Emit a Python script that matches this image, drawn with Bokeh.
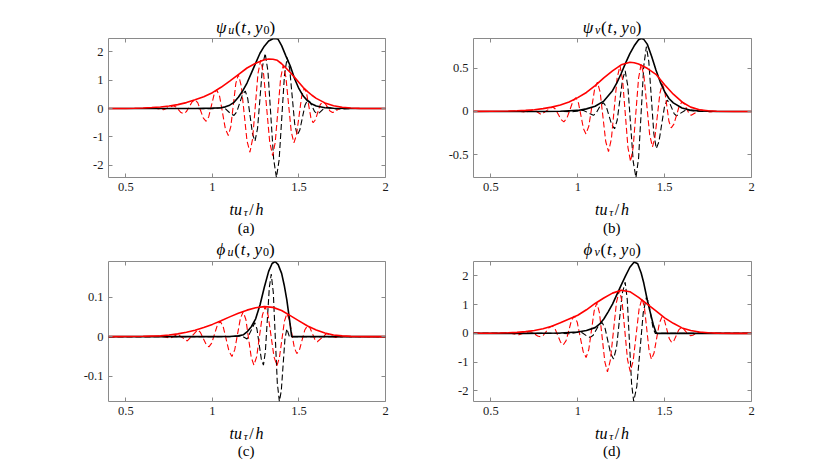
from bokeh.plotting import figure
from bokeh.models import Range1d, FixedTicker, LinearAxis, Label, PrintfTickFormatter
from bokeh.layouts import gridplot
from bokeh.embed import file_html
from bokeh.resources import INLINE

# ---------------- data ----------------
x_range_lim = [0.4, 2.0]
x_ticks = [0.5, 1, 1.5, 2]
x_tick_labels = ["0.5", "1", "1.5", "2"]

a_y_ticks = [-2, -1, 0, 1, 2]
a_y_tick_labels = ["-2", "-1", "0", "1", "2"]
b_y_ticks = [-0.5, 0, 0.5]
b_y_tick_labels = ["-0.5", "0", "0.5"]
c_y_ticks = [-0.1, 0, 0.1]
c_y_tick_labels = ["-0.1", "0", "0.1"]
d_y_ticks = [-2, -1, 0, 1, 2]
d_y_tick_labels = ["-2", "-1", "0", "1", "2"]

a_ylim = [-2.43, 2.47]
b_ylim = [-0.765, 0.845]
c_ylim = [-0.164, 0.19]
d_ylim = [-2.37, 2.5]

panel_symbols = ["ψ", "ψ", "ϕ", "ϕ"]
panel_subs = ["u", "v", "u", "v"]
captions = ["(a)", "(b)", "(c)", "(d)"]

# panel (a): envelopes (solid) and oscillating parts (dashed), (t, value)
a_black_env_x = [0.4, 0.8, 0.9, 1.0, 1.05, 1.075, 1.1, 1.125, 1.15, 1.175, 1.2, 1.225, 1.25, 1.275, 1.3, 1.325, 1.35, 1.365, 1.38, 1.4, 1.425, 1.45, 1.475, 1.5, 1.525, 1.55, 1.575, 1.6, 1.65, 1.7, 1.8, 2.0]
a_black_env_y = [0, 0, 0.005, 0.015, 0.03, 0.06, 0.12, 0.22, 0.4, 0.62, 0.9, 1.25, 1.6, 1.95, 2.2, 2.38, 2.46, 2.47, 2.44, 2.22, 1.85, 1.5, 1.05, 0.7, 0.44, 0.27, 0.16, 0.09, 0.03, 0.01, 0, 0]
a_red_env_x = [0.4, 0.5, 0.55, 0.6, 0.65, 0.7, 0.75, 0.8, 0.85, 0.9, 0.95, 1.0, 1.05, 1.1, 1.15, 1.2, 1.25, 1.3, 1.325, 1.35, 1.375, 1.4, 1.425, 1.45, 1.475, 1.5, 1.525, 1.55, 1.575, 1.6, 1.65, 1.7, 1.75, 1.8, 1.85, 1.9, 2.0]
a_red_env_y = [0.002, 0.005, 0.01, 0.02, 0.035, 0.055, 0.09, 0.14, 0.21, 0.31, 0.42, 0.56, 0.75, 0.97, 1.2, 1.43, 1.6, 1.72, 1.75, 1.74, 1.70, 1.58, 1.43, 1.27, 1.10, 0.92, 0.74, 0.6, 0.47, 0.36, 0.2, 0.1, 0.045, 0.018, 0.007, 0.002, 0]
a_black_osc = [(0.4, 0), (0.9, 0), (1.0, -0.005), (1.06, 0.03), (1.076, -0.009), (1.109, -0.201), (1.125, -0.24), (1.141, -0.115), (1.174, 0.494), (1.19, 0.62), (1.204, 0.362), (1.232, -0.892), (1.246, -1.15), (1.261, -0.697), (1.29, 1.497), (1.305, 1.95), (1.321, 1.311), (1.354, -1.791), (1.37, -2.43), (1.3855, -1.812), (1.4165, 1.182), (1.432, 1.8), (1.4465, 1.4), (1.4755, -0.54), (1.49, -0.94), (1.505, -0.759), (1.535, 0.119), (1.55, 0.3), (1.564, 0.23), (1.591, -0.11), (1.605, -0.18), (1.619, -0.146), (1.646, 0.016), (1.66, 0.05), (1.72, -0.02), (1.8, 0), (2.0, 0)]
a_red_osc = [(0.4, 0), (0.6, 0), (0.66, 0.02), (0.717, -0.04), (0.775, 0.1), (0.7895, 0.059), (0.8185, -0.139), (0.833, -0.18), (0.8498, -0.108), (0.8833, 0.238), (0.9, 0.31), (0.916, 0.199), (0.948, -0.339), (0.964, -0.45), (0.979, -0.288), (1.01, 0.498), (1.025, 0.66), (1.042, 0.425), (1.075, -0.715), (1.092, -0.95), (1.1065, -0.636), (1.1355, 0.886), (1.15, 1.2), (1.167, 0.8), (1.2, -1.14), (1.217, -1.54), (1.2325, -1.066), (1.2635, 1.236), (1.279, 1.71), (1.296, 1.218), (1.331, -1.168), (1.348, -1.66), (1.363, -1.196), (1.394, 1.056), (1.409, 1.52), (1.4245, 1.121), (1.4555, -0.811), (1.471, -1.21), (1.486, -0.928), (1.516, 0.438), (1.531, 0.72), (1.544, 0.542), (1.569, -0.322), (1.582, -0.5), (1.5955, -0.392), (1.6225, 0.132), (1.636, 0.24), (1.6505, 0.185), (1.6795, -0.085), (1.694, -0.14), (1.708, -0.114), (1.736, 0.014), (1.75, 0.04), (1.8, 0), (2.0, 0)]

# panel (b)
b_black_env_x = [0.4, 0.8, 0.9, 1.0, 1.05, 1.1, 1.15, 1.2, 1.225, 1.25, 1.275, 1.3, 1.325, 1.35, 1.365, 1.38, 1.4, 1.425, 1.45, 1.475, 1.5, 1.525, 1.55, 1.6, 1.65, 1.7, 1.8, 2.0]
b_black_env_y = [0, 0, 0.003, 0.012, 0.03, 0.06, 0.12, 0.24, 0.33, 0.44, 0.56, 0.67, 0.76, 0.83, 0.845, 0.835, 0.78, 0.64, 0.48, 0.34, 0.23, 0.15, 0.1, 0.04, 0.015, 0.005, 0, 0]
b_red_env_x = [0.4, 0.5, 0.6, 0.65, 0.7, 0.75, 0.8, 0.85, 0.9, 0.95, 1.0, 1.05, 1.1, 1.15, 1.2, 1.25, 1.3, 1.325, 1.35, 1.4, 1.45, 1.5, 1.55, 1.6, 1.65, 1.7, 1.75, 1.8, 1.9, 2.0]
b_red_env_y = [0.001, 0.002, 0.005, 0.008, 0.013, 0.02, 0.033, 0.05, 0.075, 0.11, 0.16, 0.22, 0.3, 0.39, 0.47, 0.54, 0.57, 0.565, 0.55, 0.5, 0.43, 0.31, 0.2, 0.11, 0.05, 0.02, 0.008, 0.003, 0, 0]
b_black_osc = [(0.4, 0), (0.9, 0), (0.97, -0.003), (1.03, 0.015), (1.09, -0.045), (1.1045, -0.024), (1.1335, 0.079), (1.148, 0.1), (1.164, 0.056), (1.196, -0.156), (1.212, -0.2), (1.227, -0.102), (1.258, 0.372), (1.273, 0.47), (1.2885, 0.29), (1.3195, -0.585), (1.335, -0.765), (1.35, -0.544), (1.38, 0.529), (1.395, 0.75), (1.409, 0.578), (1.438, -0.258), (1.452, -0.43), (1.4675, -0.348), (1.4985, 0.048), (1.514, 0.13), (1.5275, 0.104), (1.5545, -0.024), (1.568, -0.05), (1.62, 0.015), (1.7, 0), (2.0, 0)]
b_red_osc = [(0.4, 0), (0.6, 0), (0.65, 0.004), (0.7, -0.008), (0.745, 0.02), (0.79, -0.035), (0.855, 0.055), (0.871, 0.029), (0.904, -0.094), (0.92, -0.12), (0.9375, -0.079), (0.9725, 0.119), (0.99, 0.16), (1.004, 0.099), (1.033, -0.199), (1.047, -0.26), (1.0635, -0.172), (1.0965, 0.252), (1.113, 0.34), (1.129, 0.222), (1.161, -0.348), (1.177, -0.465), (1.1935, -0.32), (1.2265, 0.385), (1.243, 0.53), (1.258, 0.368), (1.289, -0.418), (1.304, -0.58), (1.319, -0.415), (1.35, 0.385), (1.365, 0.55), (1.381, 0.41), (1.414, -0.27), (1.43, -0.41), (1.444, -0.303), (1.473, 0.213), (1.487, 0.32), (1.5, 0.246), (1.525, -0.116), (1.538, -0.19), (1.5535, -0.146), (1.5845, 0.066), (1.6, 0.11), (1.613, 0.087), (1.64, -0.022), (1.653, -0.045), (1.705, 0.02), (1.76, -0.005), (1.8, 0), (2.0, 0)]

# panel (c)
c_black_env_x = [0.4, 1.0, 1.1, 1.15, 1.18, 1.2, 1.225, 1.25, 1.275, 1.3, 1.325, 1.345, 1.362, 1.38, 1.4, 1.415, 1.43, 1.445, 1.458, 2.0]
c_black_env_y = [0, 0, 0.0005, 0.002, 0.005, 0.012, 0.025, 0.045, 0.08, 0.125, 0.165, 0.185, 0.19, 0.182, 0.16, 0.13, 0.093, 0.045, 0, 0]
c_red_env_x = [0.4, 0.5, 0.6, 0.7, 0.75, 0.8, 0.85, 0.9, 0.95, 1.0, 1.05, 1.1, 1.15, 1.2, 1.25, 1.3, 1.35, 1.4, 1.45, 1.5, 1.55, 1.6, 1.65, 1.7, 1.75, 1.8, 1.9, 2.0]
c_red_env_y = [0.0001, 0.0002, 0.0008, 0.002, 0.004, 0.007, 0.011, 0.016, 0.023, 0.031, 0.04, 0.05, 0.059, 0.067, 0.073, 0.076, 0.074, 0.066, 0.053, 0.04, 0.027, 0.017, 0.009, 0.004, 0.002, 0.0007, 0, 0]
c_black_osc = [(0.4, 0), (1.1, 0), (1.17, 0.002), (1.2, -0.006), (1.245, 0.035), (1.2575, 0.0194), (1.2825, -0.0564), (1.295, -0.072), (1.306, -0.0384), (1.329, 0.1244), (1.34, 0.158), (1.352, 0.111), (1.375, -0.1169), (1.387, -0.164), (1.398, -0.137), (1.419, -0.007), (1.43, 0.02), (1.445, 0), (2.0, 0)]
c_red_osc = [(0.4, 0), (0.65, 0), (0.7, 0.002), (0.755, -0.004), (0.8, 0.006), (0.855, -0.011), (0.915, 0.017), (0.931, 0.0107), (0.964, -0.0197), (0.98, -0.026), (0.996, -0.0165), (1.029, 0.0295), (1.045, 0.039), (1.062, 0.026), (1.096, -0.037), (1.113, -0.05), (1.129, -0.0335), (1.162, 0.0465), (1.178, 0.063), (1.1935, 0.0433), (1.2245, -0.0523), (1.24, -0.072), (1.256, -0.0504), (1.289, 0.0544), (1.305, 0.076), (1.322, 0.0542), (1.356, -0.0512), (1.373, -0.073), (1.387, -0.0538), (1.416, 0.0388), (1.43, 0.058), (1.4445, 0.0432), (1.4735, -0.0282), (1.488, -0.043), (1.5035, -0.0326), (1.5345, 0.0176), (1.55, 0.028), (1.564, 0.022), (1.592, -0.007), (1.606, -0.013), (1.66, 0.008), (1.71, -0.002), (1.75, 0), (2.0, 0)]

# panel (d)
d_black_env_x = [0.4, 0.7, 0.8, 0.9, 1.0, 1.05, 1.1, 1.125, 1.15, 1.175, 1.2, 1.225, 1.25, 1.275, 1.3, 1.325, 1.345, 1.365, 1.38, 1.4, 1.42, 1.435, 1.45, 1.455, 2.0]
d_black_env_y = [0, 0, 0.005, 0.015, 0.05, 0.1, 0.2, 0.32, 0.5, 0.75, 1.02, 1.35, 1.68, 2.0, 2.3, 2.48, 2.42, 2.1, 1.75, 1.17, 0.66, 0.3, 0.04, 0, 0]
d_red_env_x = [0.4, 0.5, 0.55, 0.6, 0.65, 0.7, 0.75, 0.8, 0.85, 0.9, 0.95, 1.0, 1.05, 1.1, 1.15, 1.2, 1.25, 1.3, 1.35, 1.4, 1.45, 1.5, 1.55, 1.6, 1.65, 1.7, 1.75, 1.8, 1.9, 2.0]
d_red_env_y = [0.002, 0.006, 0.012, 0.02, 0.035, 0.06, 0.1, 0.16, 0.25, 0.37, 0.5, 0.63, 0.82, 1.04, 1.23, 1.4, 1.5, 1.45, 1.25, 1.02, 0.78, 0.54, 0.35, 0.19, 0.1, 0.045, 0.02, 0.007, 0.001, 0]
d_black_osc = [(0.4, 0), (0.8, 0), (0.9, 0.003), (0.95, -0.01), (1.01, 0.05), (1.0255, 0.022), (1.0565, -0.112), (1.072, -0.14), (1.089, -0.064), (1.123, 0.304), (1.14, 0.38), (1.1565, 0.195), (1.1895, -0.705), (1.206, -0.89), (1.223, -0.5), (1.256, 1.39), (1.273, 1.78), (1.285, 1.174), (1.31, -1.764), (1.322, -2.37), (1.34, -1.842), (1.377, 0.722), (1.395, 1.25), (1.408, 1.067), (1.4335, 0.183), (1.446, 0), (2.0, 0)]
d_red_osc = [(0.4, 0), (0.55, 0), (0.6, 0.02), (0.662, -0.05), (0.72, 0.07), (0.736, 0.042), (0.769, -0.092), (0.785, -0.12), (0.802, -0.065), (0.836, 0.205), (0.853, 0.26), (0.869, 0.164), (0.901, -0.304), (0.917, -0.4), (0.933, -0.254), (0.964, 0.454), (0.98, 0.6), (0.997, 0.39), (1.031, -0.63), (1.048, -0.84), (1.0635, -0.563), (1.0945, 0.783), (1.11, 1.06), (1.125, 0.71), (1.156, -0.99), (1.171, -1.34), (1.188, -0.925), (1.223, 1.085), (1.24, 1.5), (1.2555, 1.087), (1.2865, -0.917), (1.302, -1.33), (1.319, -0.958), (1.353, 0.848), (1.37, 1.22), (1.3835, 0.911), (1.4105, -0.591), (1.424, -0.9), (1.439, -0.684), (1.47, 0.364), (1.485, 0.58), (1.499, 0.449), (1.527, -0.189), (1.541, -0.32), (1.5545, -0.244), (1.5815, 0.124), (1.595, 0.2), (1.609, 0.159), (1.636, -0.039), (1.65, -0.08), (1.6625, -0.063), (1.6875, 0.023), (1.7, 0.04), (1.75, 0), (2.0, 0)]

# ---------------- styling ----------------
FONT = "Liberation Serif"
BOX = "#8a8a8a"
BASE_FIX = 3.5
W_IT = {"t": 0.33, "u": 0.56, "v": 0.5, "y": 0.5, "h": 0.56, "ψ": 0.72, "ϕ": 0.65, "τ": 0.5}
W_RM = {"(": 0.38, ")": 0.38, ",": 0.28, " ": 0.2, "0": 0.5, "/": 0.4,
        "a": 0.46, "b": 0.52, "c": 0.46, "d": 0.52}

COL_W = [429, 382]
FRAME_L = [108, 44]
FRAME_W = [277, 278]
X_MID = 0.5 * (x_range_lim[0] + x_range_lim[1])


def tw(s, style, size):
    tab = W_IT if style == "italic" else W_RM
    return sum(tab.get(ch, 0.5) for ch in s) * size


def strip(col, h):
    w = COL_W[col]
    s = figure(width=w, height=h, x_range=Range1d(*x_range_lim), y_range=Range1d(0, h),
               x_axis_type=None, y_axis_type=None, toolbar_location=None,
               output_backend="svg", min_border_left=FRAME_L[col],
               min_border_right=w - FRAME_L[col] - FRAME_W[col],
               min_border_top=0, min_border_bottom=0)
    s.outline_line_color = None
    s.background_fill_color = "white"
    s.border_fill_color = "white"
    return s


def rich(s, dx, yb, pieces):
    total = sum(tw(t, st, sz) for t, st, sz, dy in pieces)
    cur = dx - total / 2.0
    for t, st, sz, dy in pieces:
        s.add_layout(Label(x=X_MID, y=yb + dy + BASE_FIX, x_offset=cur, text=t, text_font=FONT,
                           text_font_size=f"{sz}px", text_font_style=st,
                           text_align="left", text_baseline="alphabetic",
                           text_color="#000000"))
        cur += tw(t, st, sz)


def title_strip(idx, col, h, base_from_top, shift):
    s = strip(col, h)
    rich(s, shift, h - base_from_top, [
        (panel_symbols[idx], "italic", 17, 0),
        (panel_subs[idx], "italic", 12, -2.5),
        ("(", "normal", 17, 0),
        ("t", "italic", 17, 0),
        (", ", "normal", 17, 0),
        ("y", "italic", 17, 0),
        ("0", "normal", 12, -2.5),
        (")", "normal", 17, 0),
    ])
    return s


def label_strip(idx, col, h, xl_base, cap_base):
    s = strip(col, h)
    rich(s, 0, h - xl_base, [
        ("tu", "italic", 16, 0),
        ("τ", "italic", 11, -3),
        ("/", "normal", 16, 0),
        ("h", "italic", 16, 0),
    ])
    rich(s, 0, h - cap_base, [(captions[idx], "normal", 15, 0)])
    return s


def make_panel(col, h, bt, bb, ylim, yt, ytl, bex, bey, rex, rey, bosc, rosc):
    w = COL_W[col]
    bl = FRAME_L[col]
    br = w - bl - FRAME_W[col]
    p = figure(width=w, height=h, output_backend="svg", toolbar_location=None,
               x_range=Range1d(*x_range_lim), y_range=Range1d(ylim[0], ylim[1]),
               min_border_left=bl, min_border_right=br, min_border_top=bt, min_border_bottom=bb)
    p.background_fill_color = "white"
    p.border_fill_color = "white"
    p.outline_line_color = BOX
    p.outline_line_width = 1
    p.xgrid.visible = False
    p.ygrid.visible = False

    xa = p.below[0]
    ya = p.left[0]
    for ax, ticks, labels in ((xa, x_ticks, x_tick_labels), (ya, yt, ytl)):
        ax.ticker = FixedTicker(ticks=ticks)
        ax.formatter = PrintfTickFormatter(format="%g")
        ax.major_label_overrides = {float(t): l for t, l in zip(ticks, labels)}
        ax.axis_line_color = None
        ax.major_tick_in = 4
        ax.major_tick_out = 0
        ax.major_tick_line_color = BOX
        ax.minor_tick_line_color = None
        ax.major_label_text_font = FONT
        ax.major_label_text_font_size = "12.5px"
        ax.major_label_text_color = "#1a1a1a"
    xa.major_label_standoff = 5
    ya.major_label_standoff = 5

    for side, ticks in (("above", x_ticks), ("right", yt)):
        ax2 = LinearAxis(ticker=FixedTicker(ticks=ticks), axis_line_color=None,
                         major_tick_in=4, major_tick_out=0, major_tick_line_color=BOX,
                         minor_tick_line_color=None, major_label_text_font_size="0px",
                         major_label_text_color=None, major_label_standoff=0)
        p.add_layout(ax2, side)

    bx, by = zip(*bosc)
    rx, ry = zip(*rosc)
    p.line(list(bx), list(by), line_color="black", line_width=1.1, line_dash="6 3")
    p.line(list(rx), list(ry), line_color="#ff0000", line_width=1.1, line_dash="6 3")
    p.line(bex, bey, line_color="black", line_width=1.6)
    p.line(rex, rey, line_color="#ff0000", line_width=1.6)
    return p


# rows: 0-37 titles, 37-197 plots, 197-236 labels, 236-260 titles, 260-421 plots, 421-463 labels
ta = title_strip(0, 0, 37, 30.2, -1)
tb = title_strip(1, 1, 37, 30.2, 0)
pa = make_panel(0, 160, 1, 20, a_ylim, a_y_ticks, a_y_tick_labels,
                a_black_env_x, a_black_env_y, a_red_env_x, a_red_env_y, a_black_osc, a_red_osc)
pb = make_panel(1, 160, 1, 20, b_ylim, b_y_ticks, b_y_tick_labels,
                b_black_env_x, b_black_env_y, b_red_env_x, b_red_env_y, b_black_osc, b_red_osc)
la = label_strip(0, 0, 39, 15, 33.5)
lb = label_strip(1, 1, 39, 15, 33.5)
tc = title_strip(2, 0, 24, 16.3, -1)
td = title_strip(3, 1, 24, 16.3, 0)
pc = make_panel(0, 161, 1, 20, c_ylim, c_y_ticks, c_y_tick_labels,
                c_black_env_x, c_black_env_y, c_red_env_x, c_red_env_y, c_black_osc, c_red_osc)
pd = make_panel(1, 161, 1, 20, d_ylim, d_y_ticks, d_y_tick_labels,
                d_black_env_x, d_black_env_y, d_red_env_x, d_red_env_y, d_black_osc, d_red_osc)
lc = label_strip(2, 0, 42, 15, 32.5)
ld = label_strip(3, 1, 42, 15, 32.5)

layout = gridplot([[ta, tb], [pa, pb], [la, lb], [tc, td], [pc, pd], [lc, ld]],
                  toolbar_location=None)
open("out.html", "w").write(file_html(layout, INLINE))
